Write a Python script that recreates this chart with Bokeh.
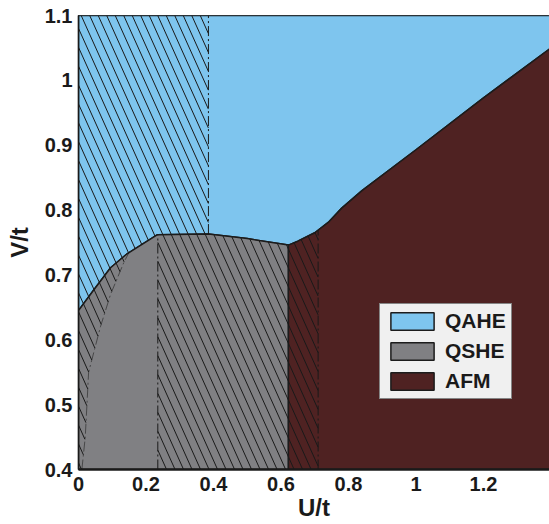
import numpy as np
from bokeh.plotting import figure
from bokeh.models import Range1d, FixedTicker, Legend, LegendItem
from bokeh.embed import file_html
from bokeh.resources import INLINE

# ---- data ----
# phase boundary: QAHE above, QSHE / AFM below
boundary_u = [0.0, 0.044, 0.095, 0.145, 0.234, 0.385, 0.50, 0.622, 0.65, 0.70, 0.74, 0.78, 0.84, 1.0, 1.2, 1.4]
boundary_v = [0.645, 0.676, 0.711, 0.733, 0.762, 0.763, 0.756, 0.746, 0.752, 0.765, 0.781, 0.803, 0.83, 0.893, 0.973, 1.05]
# QSHE / AFM vertical boundary
qshe_afm_u = 0.622
# edge of the hatched strip on the left (V -> U)
strip_v = [0.40, 0.45, 0.55, 0.62, 0.67, 0.72, 0.735]
strip_u = [0.01, 0.02, 0.03, 0.065, 0.095, 0.135, 0.15]
# dash-dot lines
dash_top_u = 0.385
dash_low_u = [0.235, 0.71]

x_ticks = [0, 0.2, 0.4, 0.6, 0.8, 1, 1.2]
y_ticks = [0.4, 0.5, 0.6, 0.7, 0.8, 0.9, 1.0, 1.1]
phase_names = ["QAHE", "QSHE", "AFM"]
phase_colors = ["#7ec5ee", "#808083", "#4f2222"]

U_MIN, U_MAX, V_MIN, V_MAX = 0.0, 1.3956, 0.4, 1.1

bu = np.array(boundary_u)
bv = np.array(boundary_v)


def B(u):
    return np.interp(u, bu, bv)


# polygons
qahe_x = list(bu) + [1.4, 0.0]
qahe_y = list(bv) + [V_MAX, V_MAX]
m = bu <= qshe_afm_u + 1e-9
qshe_x = [0.0] + list(bu[m]) + [qshe_afm_u]
qshe_y = [V_MIN] + list(bv[m]) + [V_MIN]
m2 = bu >= qshe_afm_u - 1e-9
afm_x = [qshe_afm_u] + list(bu[m2]) + [1.4]
afm_y = [V_MIN] + list(bv[m2]) + [V_MIN]

p = figure(width=549, height=524, x_range=Range1d(U_MIN, U_MAX), y_range=Range1d(V_MIN, V_MAX),
           output_backend="svg", toolbar_location=None,
           min_border_left=78, min_border_top=15, min_border_right=0, min_border_bottom=55)
p.grid.visible = False
p.outline_line_color = "#222222"
p.outline_line_width = 1.2
p.background_fill_color = "white"

edge = "#1c1c1c"
r_qahe = p.patch(qahe_x, qahe_y, fill_color=phase_colors[0], line_color=edge, line_width=1.5)
r_qshe = p.patch(qshe_x, qshe_y, fill_color=phase_colors[1], line_color=edge, line_width=1.5)
r_afm = p.patch(afm_x, afm_y, fill_color=phase_colors[2], line_color=edge, line_width=1.5)

# hatch lines (steep, down-right)
slope = 0.8653      # dU per unit of (-dV)
spacing = 0.0252
vv = np.linspace(V_MIN, V_MAX, 2500)


def in_hatch(u, v):
    b = B(u)
    r1 = (u >= 0) & (u <= dash_top_u) & (v >= b)
    r2 = (u >= dash_low_u[0]) & (u <= dash_low_u[1]) & (v <= b)
    r3 = (u >= 0) & (u <= np.interp(v, strip_v, strip_u)) & (v <= b)
    return r1 | r2 | r3


hx, hy = [], []
for u0 in np.arange(-1.0, 1.0, spacing):
    uu = u0 + (V_MAX - vv) * slope
    mask = in_hatch(uu, vv)
    idx = np.flatnonzero(mask)
    if idx.size == 0:
        continue
    breaks = np.flatnonzero(np.diff(idx) > 1)
    starts = np.r_[idx[0], idx[breaks + 1]]
    ends = np.r_[idx[breaks], idx[-1]]
    for s, e in zip(starts, ends):
        if e > s:
            hx.append([float(uu[s]), float(uu[e])])
            hy.append([float(vv[s]), float(vv[e])])
p.multi_line(hx, hy, line_color="#1a1a1a", line_width=1)

# dash-dot lines
dd = "10 3 2 3"
p.line([dash_top_u, dash_top_u], [float(B(dash_top_u)), V_MAX], line_color="#1a1a1a", line_width=1, line_dash=dd)
for u in dash_low_u:
    p.line([u, u], [V_MIN, float(B(u))], line_color="#1a1a1a", line_width=1, line_dash=dd)
p.line(strip_u, strip_v, line_color="#1a1a1a", line_width=0.8, line_dash=dd, line_alpha=0.7)

# axes
font = "Liberation Sans"
p.xaxis.ticker = FixedTicker(ticks=x_ticks)
p.yaxis.ticker = FixedTicker(ticks=y_ticks)
p.xaxis.major_label_overrides = {0: "0", 1: "1"}
p.yaxis.major_label_overrides = {1: "1"}
for ax in (p.xaxis[0], p.yaxis[0]):
    ax.major_label_text_font = font
    ax.major_label_text_font_style = "bold"
    ax.major_label_text_font_size = "20px"
    ax.major_label_text_color = "#1a1a1a"
    ax.axis_label_text_font = font
    ax.axis_label_text_font_style = "bold"
    ax.axis_label_text_font_size = "24px"
    ax.axis_label_text_color = "#1a1a1a"
    ax.major_tick_in = 0
    ax.major_tick_out = 0
    ax.minor_tick_in = 0
    ax.minor_tick_out = 0
    ax.axis_line_color = "#1a1a1a"
p.xaxis.axis_label = "U/t"
p.yaxis.axis_label = "V/t"
p.xaxis.axis_line_width = 2.5
p.yaxis.axis_line_width = 1.5
p.xaxis.major_label_standoff = 7
p.yaxis.major_label_standoff = 6
p.xaxis.axis_label_standoff = 0
p.yaxis.axis_label_standoff = 9

legend = Legend(items=[LegendItem(label=n, renderers=[r]) for n, r in zip(phase_names, [r_qahe, r_qshe, r_afm])],
                location=(301, 70))
legend.label_text_font = font
legend.label_text_font_style = "bold"
legend.label_text_font_size = "21px"
legend.label_text_color = "#1a1a1a"
legend.glyph_width = 54
legend.glyph_height = 22
legend.label_height = 22
legend.label_standoff = 6
legend.spacing = 6
legend.padding = 5
legend.margin = 0
legend.border_line_color = "#1a1a1a"
legend.border_line_width = 1.5
legend.background_fill_color = "#f0f0f0"
legend.background_fill_alpha = 1
p.add_layout(legend)

open("out.html", "w").write(file_html(p, INLINE))
